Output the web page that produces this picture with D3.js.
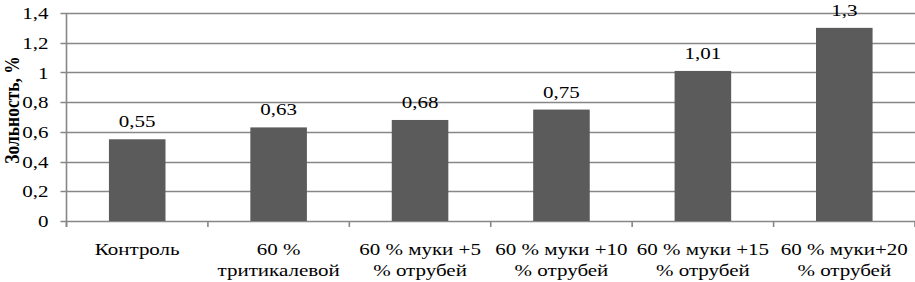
<!DOCTYPE html>
<html>
<head>
<meta charset="utf-8">
<script src="https://cdn.jsdelivr.net/npm/d3@7"></script>
<style>
  body { margin: 0; background: #fff; }
</style>
</head>
<body>
<div id="chart"></div>
<script>
var categories = [
  ["Контроль"],
  ["60 %", "тритикалевой"],
  ["60 % муки +5", "% отрубей"],
  ["60 % муки +10", "% отрубей"],
  ["60 % муки +15", "% отрубей"],
  ["60 % муки+20", "% отрубей"]
];
var values = [0.55, 0.63, 0.68, 0.75, 1.01, 1.3];
var valueLabels = ["0,55", "0,63", "0,68", "0,75", "1,01", "1,3"];
var yTicks = [0, 0.2, 0.4, 0.6, 0.8, 1, 1.2, 1.4];

var fontFamily = "Liberation Serif";
var fontSize = "17.5px";
var stretch = 1.2; // the source picture is a bit wider than tall

var svgWidth = 915, svgHeight = 282;
var margin = { top: 13, right: 0, bottom: 61, left: 66.5 };
var width = svgWidth - margin.left - margin.right;
var height = svgHeight - margin.top - margin.bottom;

var svg = d3.select("#chart").append("svg")
  .attr("width", svgWidth)
  .attr("height", svgHeight);

var g = svg.append("g")
  .attr("transform", "translate(" + margin.left + "," + margin.top + ")");

var x = d3.scaleBand()
  .domain(d3.range(values.length))
  .range([0, width])
  .paddingInner(0.6)
  .paddingOuter(0.3);

var y = d3.scaleLinear().domain([0, 1.4]).range([height, 0]);

var gridColor = "#878787";

function place(px, py) {
  return "translate(" + px + "," + py + ") scale(" + stretch + ",1)";
}

// gridlines
g.append("g")
  .selectAll("line")
  .data(yTicks)
  .enter()
  .append("line")
  .attr("x1", -6)
  .attr("x2", width)
  .attr("y1", function (d) { return Math.round(y(d)) + 0.5; })
  .attr("y2", function (d) { return Math.round(y(d)) + 0.5; })
  .attr("stroke", gridColor)
  .attr("stroke-width", 1.6);

// y tick labels
g.append("g")
  .selectAll("text")
  .data(yTicks)
  .enter()
  .append("text")
  .attr("transform", function (d) { return place(-18, y(d)); })
  .attr("dy", "0.35em")
  .attr("text-anchor", "end")
  .attr("font-family", fontFamily)
  .attr("font-size", fontSize)
  .text(function (d) { return d3.format(".1~f")(d).replace(".", ","); });

// y axis line
g.append("line")
  .attr("x1", 0).attr("x2", 0)
  .attr("y1", 0).attr("y2", height + 6)
  .attr("stroke", gridColor)
  .attr("stroke-width", 1.6);

// x category boundary ticks
var step = x.step();
g.append("g")
  .selectAll("line")
  .data(d3.range(values.length + 1))
  .enter()
  .append("line")
  .attr("x1", function (i) { return i * step; })
  .attr("x2", function (i) { return i * step; })
  .attr("y1", height)
  .attr("y2", height + 6)
  .attr("stroke", gridColor)
  .attr("stroke-width", 1.6);

// bars
g.append("g")
  .selectAll("rect")
  .data(values)
  .enter()
  .append("rect")
  .attr("x", function (d, i) { return x(i); })
  .attr("y", function (d) { return y(d); })
  .attr("width", x.bandwidth())
  .attr("height", function (d) { return height - y(d); })
  .attr("fill", "#5b5b5b");

// value labels
g.append("g")
  .selectAll("text")
  .data(values)
  .enter()
  .append("text")
  .attr("transform", function (d, i) { return place(x(i) + x.bandwidth() / 2, y(d) - 12); })
  .attr("text-anchor", "middle")
  .attr("font-family", fontFamily)
  .attr("font-size", fontSize)
  .text(function (d, i) { return valueLabels[i]; });

// category labels
var catG = g.append("g")
  .selectAll("text")
  .data(categories)
  .enter()
  .append("text")
  .attr("text-anchor", "middle")
  .attr("font-family", fontFamily)
  .attr("font-size", fontSize)
  .attr("transform", function (d, i) { return place(x(i) + x.bandwidth() / 2, height + 34); });

catG.selectAll("tspan")
  .data(function (d) { return d; })
  .enter()
  .append("tspan")
  .attr("x", 0)
  .attr("y", function (d, j) { return j * 21; })
  .text(function (d) { return d; });

// y axis title
svg.append("text")
  .attr("transform", "translate(19," + (margin.top + height / 2 - 7) + ") scale(" + stretch + ",1) rotate(-90)")
  .attr("text-anchor", "middle")
  .attr("font-family", fontFamily)
  .attr("font-size", fontSize)
  .attr("font-weight", "bold")
  .text("Зольность, %");
</script>
</body>
</html>
